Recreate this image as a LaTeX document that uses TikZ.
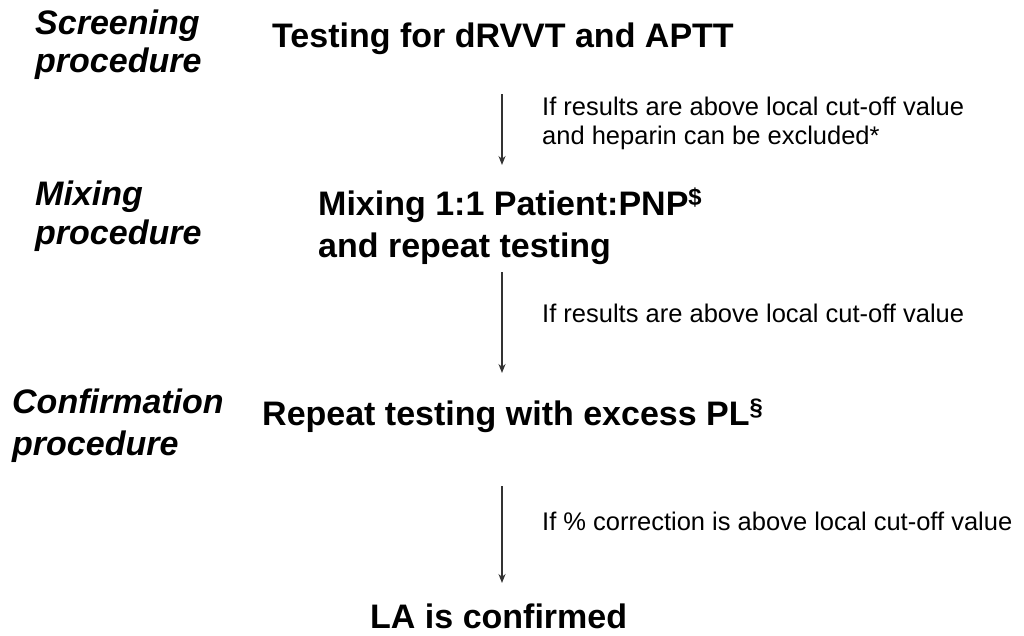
\documentclass[tikz,border=0pt]{standalone}
\usepackage{fontspec}
\setmainfont{Liberation Sans}
\usetikzlibrary{arrows.meta}
\begin{document}
\begin{tikzpicture}[x=1pt,y=-1pt,
  stage/.style={anchor=base west,inner sep=0pt,font=\fontsize{34}{39}\selectfont\bfseries\itshape},
  step box/.style={anchor=base west,inner sep=0pt,font=\fontsize{34}{42}\selectfont\bfseries},
  cond/.style={anchor=base west,inner sep=0pt,font=\fontsize{25.5}{30}\selectfont},
  flow/.style={draw=black!80,line width=1.4pt,-{Stealth[length=9pt,width=7pt]}}]
\useasboundingbox (0,0) rectangle (1024,635);
% stage labels, one line per node
\node[stage] (s1a) at (35,34) {Screening};
\node[stage] (s1b) at (35,72) {procedure};
\node[stage] (s2a) at (35,205) {Mixing};
\node[stage] (s2b) at (35,244) {procedure};
\node[stage] (s3a) at (12,413) {Confirmation};
\node[stage] (s3b) at (12,455) {procedure};
% procedure steps
\node[step box] (p1) at (272,47) {Testing for dRVVT and APTT};
\node[step box] (p2a) at (318,215) {Mixing 1:1 Patient:PNP\textsuperscript{\$}};
\node[step box] (p2b) at (318,257) {and repeat testing};
\node[step box] (p3) at (262,425) {Repeat testing with excess PL\textsuperscript{\S}};
\node[step box] (p4) at (370,628) {LA is confirmed};
% conditions attached to the arrows
\node[cond] (c1a) at (542,115) {If results are above local cut-off value};
\node[cond] (c1b) at (542,144) {and heparin can be excluded*};
\node[cond] (c2) at (542,322) {If results are above local cut-off value};
\node[cond] (c3) at (542,530) {If \% correction is above local cut-off value};
% arrows between the steps
\coordinate (a1s) at (502,94);  \coordinate (a1e) at (502,165);
\coordinate (a2s) at (502,272); \coordinate (a2e) at (502,373);
\coordinate (a3s) at (502,486); \coordinate (a3e) at (502,583);
\draw[flow] (a1s) -- (a1e);
\draw[flow] (a2s) -- (a2e);
\draw[flow] (a3s) -- (a3e);
\end{tikzpicture}
\end{document}
